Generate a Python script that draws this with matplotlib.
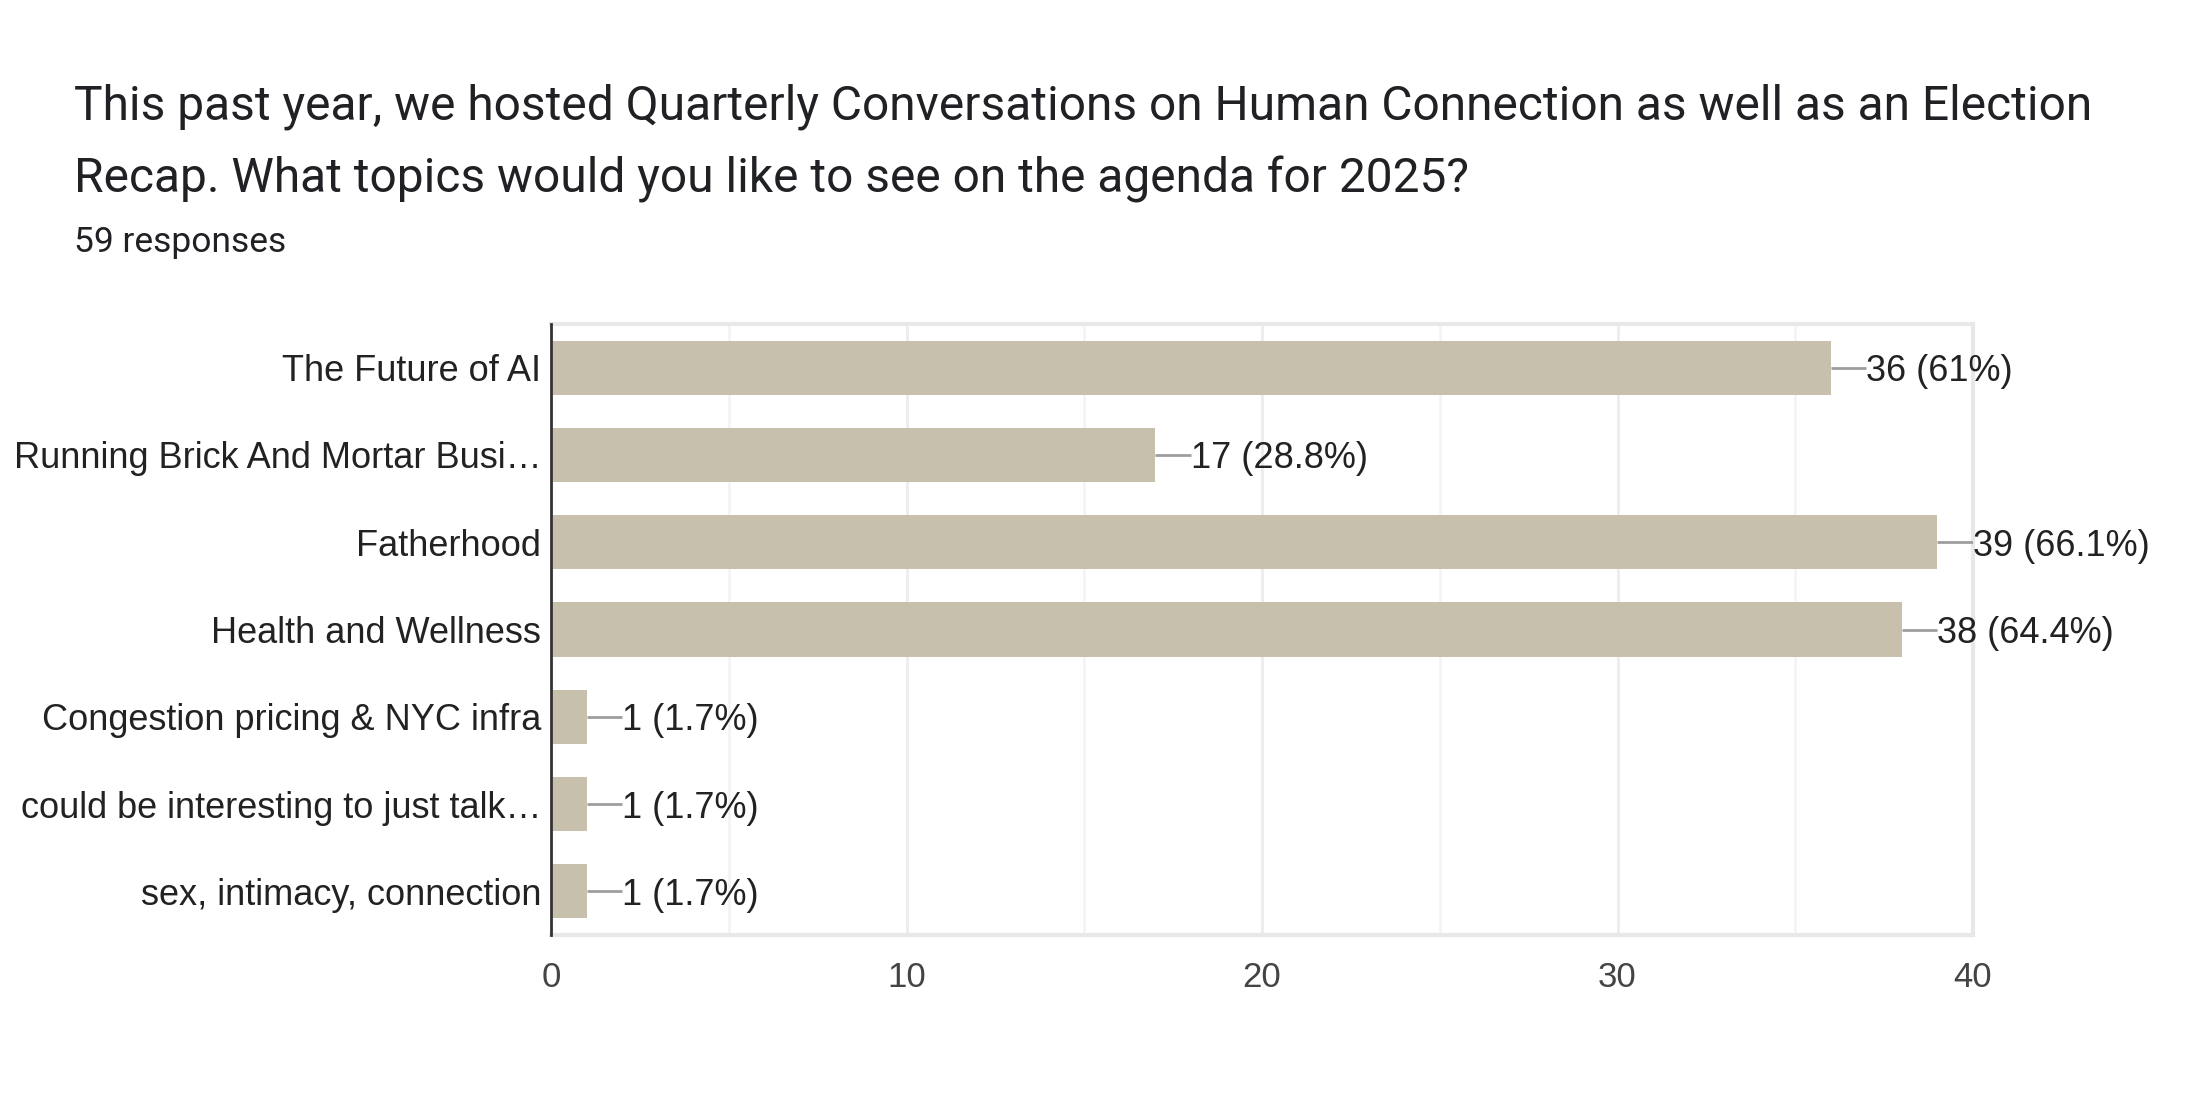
import matplotlib
matplotlib.use("Agg")
import matplotlib.pyplot as plt
from matplotlib.ticker import MultipleLocator

W, H = 2193, 1116
DPI = 100

title_lines = ["This past year, we hosted Quarterly Conversations on Human Connection as well as an Election",
               "Recap. What topics would you like to see on the agenda for 2025?"]
subtitle = "59 responses"

topics = ["The Future of AI",
          "Running Brick And Mortar Busi\u2026",
          "Fatherhood",
          "Health and Wellness",
          "Congestion pricing & NYC infra",
          "could be interesting to just talk\u2026",
          "sex, intimacy, connection"]
counts = [36, 17, 39, 38, 1, 1, 1]
pcts = ["61%", "28.8%", "66.1%", "64.4%", "1.7%", "1.7%", "1.7%"]

x_ticks = [0, 10, 20, 30, 40]

bar_color = "#c7c0ad"
lead_color = "#9e9e9e"
grid_color = "#ececec"

def px(x, y):
    # pixel coordinates (top-left origin) to figure fraction
    return x / W, 1 - y / H

fig = plt.figure(figsize=(W / DPI, H / DPI), dpi=DPI)
fig.patch.set_facecolor("white")

# header text
tx, ty = px(74, 120)
fig.text(tx, ty, title_lines[0], fontsize=34.5, family="Roboto", color="#202124", va="baseline")
tx, ty = px(74, 192)
fig.text(tx, ty, title_lines[1], fontsize=34.5, family="Roboto", color="#202124", va="baseline")
tx, ty = px(74, 252)
fig.text(tx, ty, subtitle, fontsize=25.5, family="Roboto", color="#202124", va="baseline")

left, right = 551 / W, 1973 / W
bottom, top = 1 - 935 / H, 1 - 324 / H
ax = fig.add_axes([left, bottom, right - left, top - bottom])

y = list(range(len(topics)))
ax.barh(y, counts, height=0.62, color=bar_color, zorder=2)

for i in range(len(topics)):
    v = counts[i]
    ax.plot([v, v + 1.0], [i, i], color=lead_color, lw=2, zorder=3, solid_capstyle="butt")
    ax.text(v + 1.0, i, "%d (%s)" % (v, pcts[i]), va="center_baseline", ha="left",
            fontsize=26, family="Liberation Sans", color="#222222", zorder=4)

ax.set_xlim(0, 40)
ax.set_ylim(len(topics) - 0.5, -0.5)
ax.set_yticks(y)
ax.set_yticklabels(topics, fontsize=26, family="Liberation Sans", color="#222222",
                   va="center_baseline")
ax.set_xticks(x_ticks)
ax.set_xticklabels([str(t) for t in x_ticks], fontsize=25, family="Liberation Sans", color="#444444")
ax.xaxis.set_minor_locator(MultipleLocator(5))
ax.tick_params(axis="y", length=0, pad=7)
ax.tick_params(axis="x", which="both", length=0, pad=19)

ax.grid(axis="x", which="major", color=grid_color, lw=2, zorder=0)
ax.grid(axis="x", which="minor", color="#f4f4f4", lw=2, zorder=0)

for s in ["top", "right", "bottom"]:
    ax.spines[s].set_color("#e8e8e8")
    ax.spines[s].set_linewidth(3)
ax.spines["left"].set_color("#333333")
ax.spines["left"].set_linewidth(2)
ax.spines["left"].set_zorder(5)

fig.savefig("out.png", dpi=DPI, facecolor="white")
